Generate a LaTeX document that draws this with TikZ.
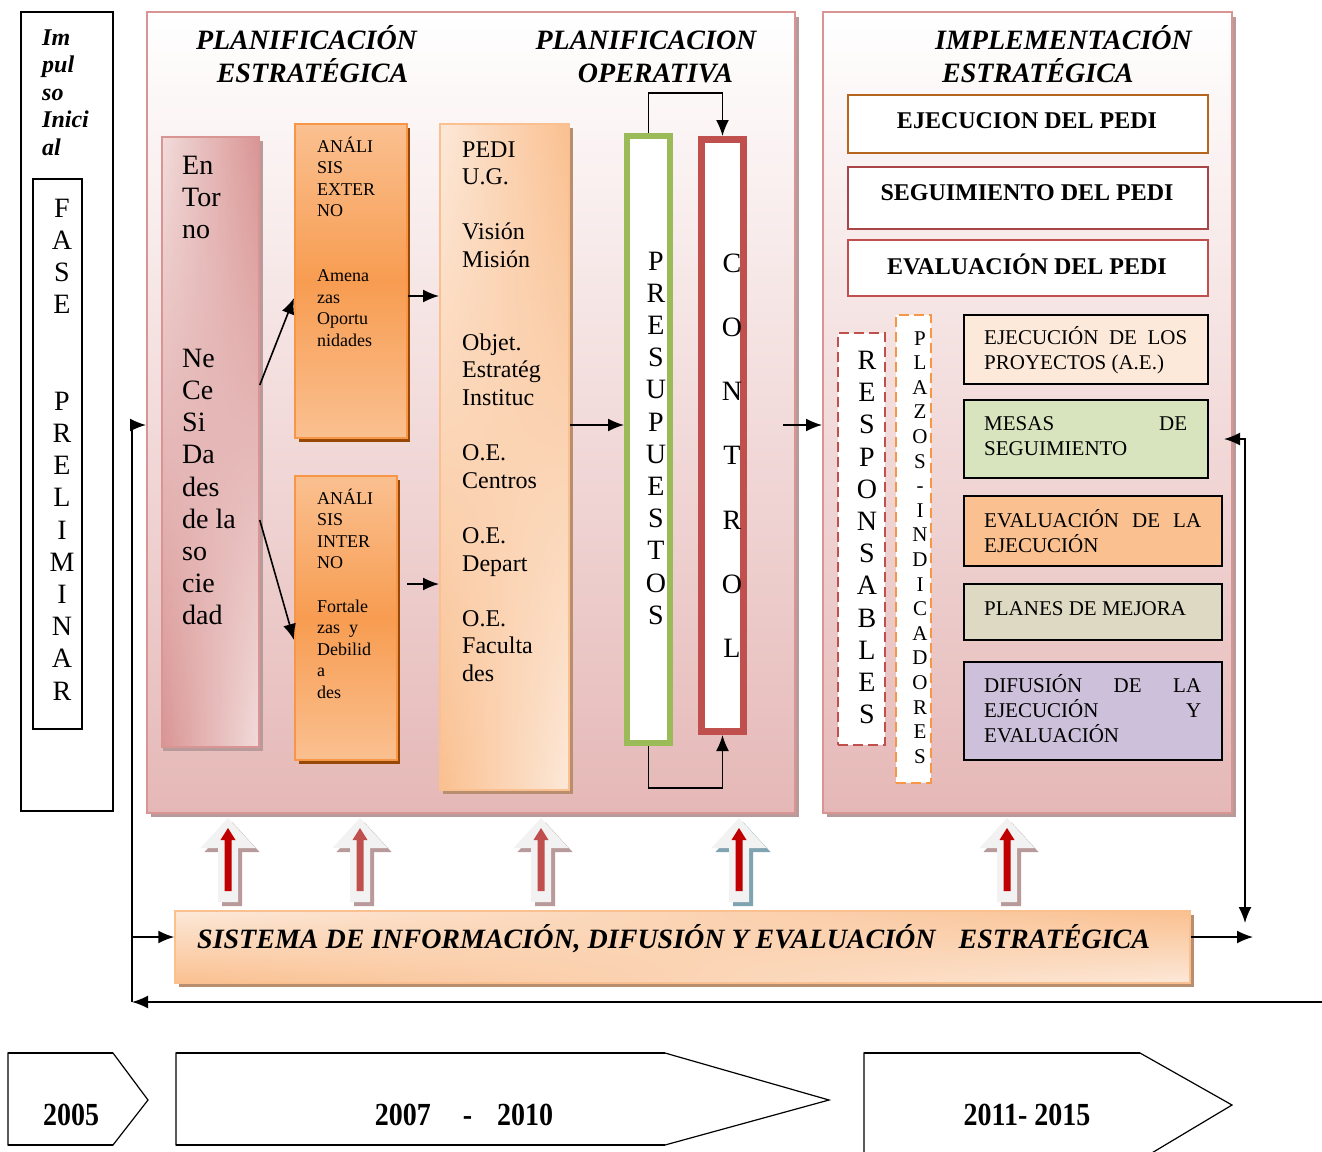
\documentclass[tikz,border=0pt]{standalone}
\usepackage{fontspec}
\setmainfont{Liberation Serif}
\usepackage{graphicx}
\usetikzlibrary{arrows.meta,fit,calc,fadings}
\definecolor{pinkb}{HTML}{D99594}
\definecolor{pinkl}{HTML}{E5B8B7}
\definecolor{pinkll}{HTML}{F2DCDB}
\definecolor{orb}{HTML}{F79646}
\definecolor{orl}{HTML}{FAC090}
\definecolor{orll}{HTML}{FDE9D9}
\definecolor{orbrown}{HTML}{984806}
\definecolor{grn}{HTML}{9BBB59}
\definecolor{redb}{HTML}{C0504D}
\definecolor{dred}{HTML}{C00000}
\definecolor{mesasc}{HTML}{D7E4BD}
\definecolor{planesc}{HTML}{DDD9C3}
\definecolor{difuc}{HTML}{CCC0DA}
\definecolor{ejbr}{HTML}{B5651D}
\definecolor{segb}{HTML}{A94448}
\definecolor{shpink}{HTML}{B89A9A}
\definecolor{shbrown}{HTML}{B98E6E}
\definecolor{shblue}{HTML}{7FA3B0}
\definecolor{agray}{HTML}{F2F2F2}
\newcommand\myfs[2]{\fontsize{#1}{#2}\selectfont}
\newcommand\blockarr[3]{%
 \begin{scope}[shift={(#1,0)}]
  \fill[#2] (4,822) -- (31.5,852) -- (14,852) -- (14,906) -- (-6,906) -- (-6,852) -- (-23.5,852) -- cycle;
  \fill[agray] (0,818) -- (27.5,848) -- (10,848) -- (10,902) -- (-10,902) -- (-10,848) -- (-27.5,848) -- cycle;
  \fill[#3] (0,828) -- (7.5,840) -- (3.5,840) -- (3.5,891) -- (-3.5,891) -- (-3.5,840) -- (-7.5,840) -- cycle;
 \end{scope}}
\begin{document}
\begin{tikzpicture}[x=1pt,y=-1pt,
  arr/.style={-{Latex[length=16pt,width=13pt]}, line width=1.6pt},
  dblarr/.style={{Latex[length=16pt,width=13pt]}-{Latex[length=16pt,width=13pt]}, line width=1.6pt},
  box/.style={inner sep=0pt},
  ttl/.style={inner sep=0pt, font=\bfseries\itshape\myfs{28}{33}},
  lbl/.style={inner sep=0pt},
  boldlbl/.style={inner sep=0pt, font=\bfseries\myfs{24}{28}},
  dashbox/.style={inner sep=0pt, fill=white, line width=2.5pt, dash pattern=on 10pt off 5pt},
  rbox/.style={inner sep=0pt, draw=black, line width=2pt},
  yr/.style={inner sep=0pt, font=\bfseries\myfs{28}{30}}]
\fill[white] (0,0) rectangle (1322,1151);
\useasboundingbox (0,0) rectangle (1322,1151);

% ---------- Impulso inicial ----------
\node[box, draw=black, line width=2.2pt, fit={(21,12) (113,811)}] (imp) {};
\node[lbl, anchor=base west] (impt) at (42,45) {\parbox[t]{65pt}{\raggedright\bfseries\itshape\myfs{24}{27.6}Im\\pul\\so\\Inici\\al}};
\node[box, draw=black, line width=2pt, fit={(33,179) (82,729)}] (fase) {};
\node[lbl, anchor=base] (faset) at (62,217) {\parbox[t]{30pt}{\centering\myfs{28}{32.2}F\\A\\S\\E\\[64.4pt]P\\R\\E\\L\\I\\M\\I\\N\\A\\R}};

% ---------- Panel 1 ----------
\fill[shpink] (151,17) rectangle (799,817);
\node[box, draw=pinkb, line width=2pt, top color=white, bottom color=pinkl, fit={(147,12) (795,813)}] (p1) {};
\node[ttl, anchor=base] (t1a) at (306.5,49) {PLANIFICACIÓN};
\node[ttl, anchor=base] (t1b) at (312.5,82) {ESTRATÉGICA};
\node[ttl, anchor=base] (t2a) at (646,49) {PLANIFICACION};
\node[ttl, anchor=base] (t2b) at (655.5,82) {OPERATIVA};

% Entorno
\fill[shpink] (163,141) rectangle (263,751);
\shade[left color=pinkll, right color=pinkb] (162,137) rectangle (259,747);
\shade[left color=pinkb, right color=pinkll, path fading=north] (162,137) rectangle (259,747);
\node[box, draw=pinkb, line width=1.5pt, fit={(162,137) (259,747)}] (ent) {};
\node[lbl, anchor=base west] (entt) at (182,174) {\parbox[t]{75pt}{\raggedright\myfs{28}{32.2}En\\Tor\\no\\[96.6pt]Ne\\Ce\\Si\\Da\\des\\de la\\so\\cie\\dad}};

% Analisis externo
\fill[orbrown] (299,128) rectangle (410,442);
\node[box, draw=orb, line width=2pt, top color=orl, bottom color=orl, middle color=orb!85!orl, fit={(295,124) (407,438)}] (ext) {};
\node[lbl, anchor=base west] (extt) at (317,152) {\parbox[t]{85pt}{\raggedright\myfs{18}{21.6}ANÁLI\\SIS\\EXTER\\NO\\[43.2pt]Amena\\zas\\Oportu\\nidades}};

% Analisis interno
\fill[orbrown] (299,480) rectangle (400,764);
\node[box, draw=orb, line width=2pt, top color=orl, bottom color=orl, middle color=orb!85!orl, fit={(295,476) (397,760)}] (int) {};
\node[lbl, anchor=base west] (intt) at (317,504) {\parbox[t]{80pt}{\raggedright\myfs{18}{21.6}ANÁLI\\SIS\\INTER\\NO\\[21.6pt]Fortale\\zas\hspace{9pt}y\\Debilid\\a\\des}};

% PEDI
\fill[shbrown] (443,128) rectangle (573,794);
\shade[left color=orll, right color=orl] (440,124) rectangle (569,790);
\shade[left color=orl, right color=orll, path fading=north] (440,124) rectangle (569,790);
\node[box, draw=orl, line width=2pt, fit={(440,124) (569,790)}] (pedi) {};
\node[lbl, anchor=base west] (pedit) at (462,157) {\parbox[t]{105pt}{\raggedright\myfs{24}{27.6}PEDI\\U.G.\\[27.6pt]Visión\\Misión\\[55.2pt]Objet.\\Estratég\\Instituc\\[27.6pt]O.E.\\Centros\\[27.6pt]O.E.\\Depart\\[27.6pt]O.E.\\Faculta\\des}};

% Presupuestos & Control
\node[box, draw=grn, line width=6pt, fill=white, fit={(627,136) (670,743)}] (pres) {};
\node[lbl, anchor=base] (prest) at (656,270) {\parbox[t]{30pt}{\centering\myfs{28}{32.2}P\\R\\E\\S\\U\\P\\U\\E\\S\\T\\O\\S}};
\node[box, draw=redb, line width=7pt, fill=white, fit={(701.5,139.5) (743.5,731.5)}] (ctrl) {};
\node[lbl, anchor=base] (ctrlt) at (732,272) {\parbox[t]{30pt}{\centering\myfs{28}{64.33}C\\O\\N\\T\\R\\O\\L}};

% ---------- Panel 2 ----------
\fill[shpink] (827,17) rectangle (1236,817);
\node[box, draw=pinkb, line width=2pt, top color=white, bottom color=pinkl, fit={(823,12) (1232,813)}] (p2) {};
\node[ttl, anchor=base west] (t3a) at (935,49) {IMPLEMENTACIÓN};
\node[ttl, anchor=base west] (t3b) at (942,82) {ESTRATÉGICA};

\node[box, draw=ejbr, line width=2.5pt, fill=white, fit={(848,95) (1208,153)}] (ejec) {};
\node[boldlbl, anchor=base] (eject) at (1027,128) {EJECUCION DEL PEDI};
\node[box, draw=segb, line width=2.5pt, fill=white, fit={(848,167) (1208,229)}] (seg) {};
\node[boldlbl, anchor=base] (segt) at (1027,200) {SEGUIMIENTO DEL PEDI};
\node[box, draw=redb, line width=2.5pt, fill=white, fit={(848,240) (1208,296)}] (evp) {};
\node[boldlbl, anchor=base] (evpt) at (1027,274) {EVALUACIÓN DEL PEDI};

\node[dashbox, draw=redb, fit={(838,333) (885,745)}] (resp) {};
\node[lbl, anchor=base] (respt) at (867,369.5) {\parbox[t]{30pt}{\centering\myfs{28}{32.2}R\\E\\S\\P\\O\\N\\S\\A\\B\\L\\E\\S}};
\node[dashbox, draw=orb, fit={(896,315) (931,783)}] (plaz) {};
\node[lbl, anchor=base] (plazt) at (920,345) {\parbox[t]{24pt}{\centering\myfs{21}{24.6}P\\L\\A\\Z\\O\\S\\-\\I\\N\\D\\I\\C\\A\\D\\O\\R\\E\\S}};

\node[rbox, fill=orll, fit={(964,315) (1208,384)}] (eje2) {};
\node[lbl, anchor=base west] (eje2t) at (984,344) {\parbox[t]{203pt}{\myfs{21}{25}EJECUCIÓN\hfill DE\hfill LOS\\PROYECTOS (A.E.)}};
\node[rbox, fill=mesasc, fit={(964,400) (1208,478)}] (mesas) {};
\node[lbl, anchor=base west] (mesast) at (984,430) {\parbox[t]{203pt}{\myfs{21}{25}MESAS\hfill DE\\SEGUIMIENTO}};
\node[rbox, fill=orl, fit={(964,496) (1222,566)}] (evej) {};
\node[lbl, anchor=base west] (evejt) at (984,527) {\parbox[t]{217pt}{\myfs{21}{25}EVALUACIÓN\hfill DE\hfill LA\\EJECUCIÓN}};
\node[rbox, fill=planesc, fit={(964,584) (1222,640)}] (plan) {};
\node[lbl, anchor=base west] (plant) at (984,615) {\myfs{21}{25}PLANES DE MEJORA};
\node[rbox, fill=difuc, fit={(964,662) (1222,760)}] (difu) {};
\node[lbl, anchor=base west] (difut) at (984,692) {\parbox[t]{217pt}{\myfs{21}{25}DIFUSIÓN\hfill DE\hfill LA\\EJECUCIÓN\hfill Y\\EVALUACIÓN}};

% ---------- block arrows ----------
\blockarr{228}{shpink}{dred}
\blockarr{360}{shpink}{redb}
\blockarr{541}{shpink}{redb}
\blockarr{739}{shblue}{dred}
\blockarr{1007}{shpink}{dred}

% ---------- Sistema ----------
\fill[shbrown] (179,915) rectangle (1194,987);
\shade[top color=orll, bottom color=orl] (175,911) rectangle (1190,983);
\shade[top color=orl, bottom color=orll, path fading=west] (175,911) rectangle (1190,983);
\node[box, draw=orl, line width=1.5pt, fit={(175,911) (1190,983)}] (sist) {};
\node[lbl, anchor=base west] (sistt) at (197,948) {\bfseries\itshape\myfs{28}{30}SISTEMA DE INFORMACIÓN, DIFUSIÓN Y EVALUACIÓN\hspace{23pt}ESTRATÉGICA};

% ---------- connectors ----------
\draw[arr] ([yshift=57]ent.east) -- ([yshift=-17]ext.west);
\draw[arr] ([yshift=-78]ent.east) -- ([yshift=-22]int.west);
\draw[arr] ([yshift=-15]ext.east) -- ([yshift=161]pedi.west);
\draw[arr] ([xshift=9,yshift=34]int.east) -- ([yshift=-127]pedi.west);
\draw[arr] ([yshift=32]pedi.east) -- ([yshift=14.5]pres.west);
\draw[arr] (pres.north) -- ++(0,-40) -| (ctrl.north);
\draw[arr] (pres.south) -- ++(0,42) -| (ctrl.south);
\draw[arr] ([xshift=-13,yshift=-12.5]p1.east) -- ([yshift=-12.5]p2.west);

\coordinate (mtip) at ([xshift=15]mesas.east);
\coordinate (rdown) at (1245,923);
\draw[dblarr] (mtip) -| (rdown);
\coordinate (rout) at (1253,937);
\draw[arr] ([yshift=10]sist.east) -- (rout);
\coordinate (fbr) at (1322,1002);
\coordinate (fbl) at (132,1002);
\draw[arr] (fbr) -- (fbl);
\draw[arr] (fbl) |- ([yshift=-12.5]p1.west);
\coordinate (sin) at ([yshift=10]sist.west);
\draw[arr] (fbl |- sin) -- (sin);

% ---------- timeline ----------
\draw[line width=1.2pt] (8,1053) -- (113,1053) -- (148,1100) -- (113,1145) -- (8,1145) -- cycle;
\draw[line width=2.5pt] (8,1053) -- (113,1053) (8,1145) -- (113,1145);
\node[yr, anchor=base] (y1) at (71,1125) {\scalebox{1}[1.15]{2005}};
\draw[line width=1.2pt] (176,1053) -- (665,1053) -- (829,1100) -- (665,1145) -- (176,1145) -- cycle;
\draw[line width=2.5pt] (176,1053) -- (665,1053) (176,1145) -- (665,1145);
\node[yr, anchor=base] (y2) at (464,1125) {\scalebox{1}[1.15]{2007\hspace{32pt}-\hspace{25pt}2010}};
\draw[line width=1.2pt] (864,1160) -- (864,1053) -- (1140,1053) -- (1232,1105) -- (1140,1160);
\draw[line width=2.5pt] (864,1053) -- (1140,1053);
\node[yr, anchor=base] (y3) at (1027,1125) {\scalebox{1}[1.15]{2011- 2015}};
\end{tikzpicture}
\end{document}
